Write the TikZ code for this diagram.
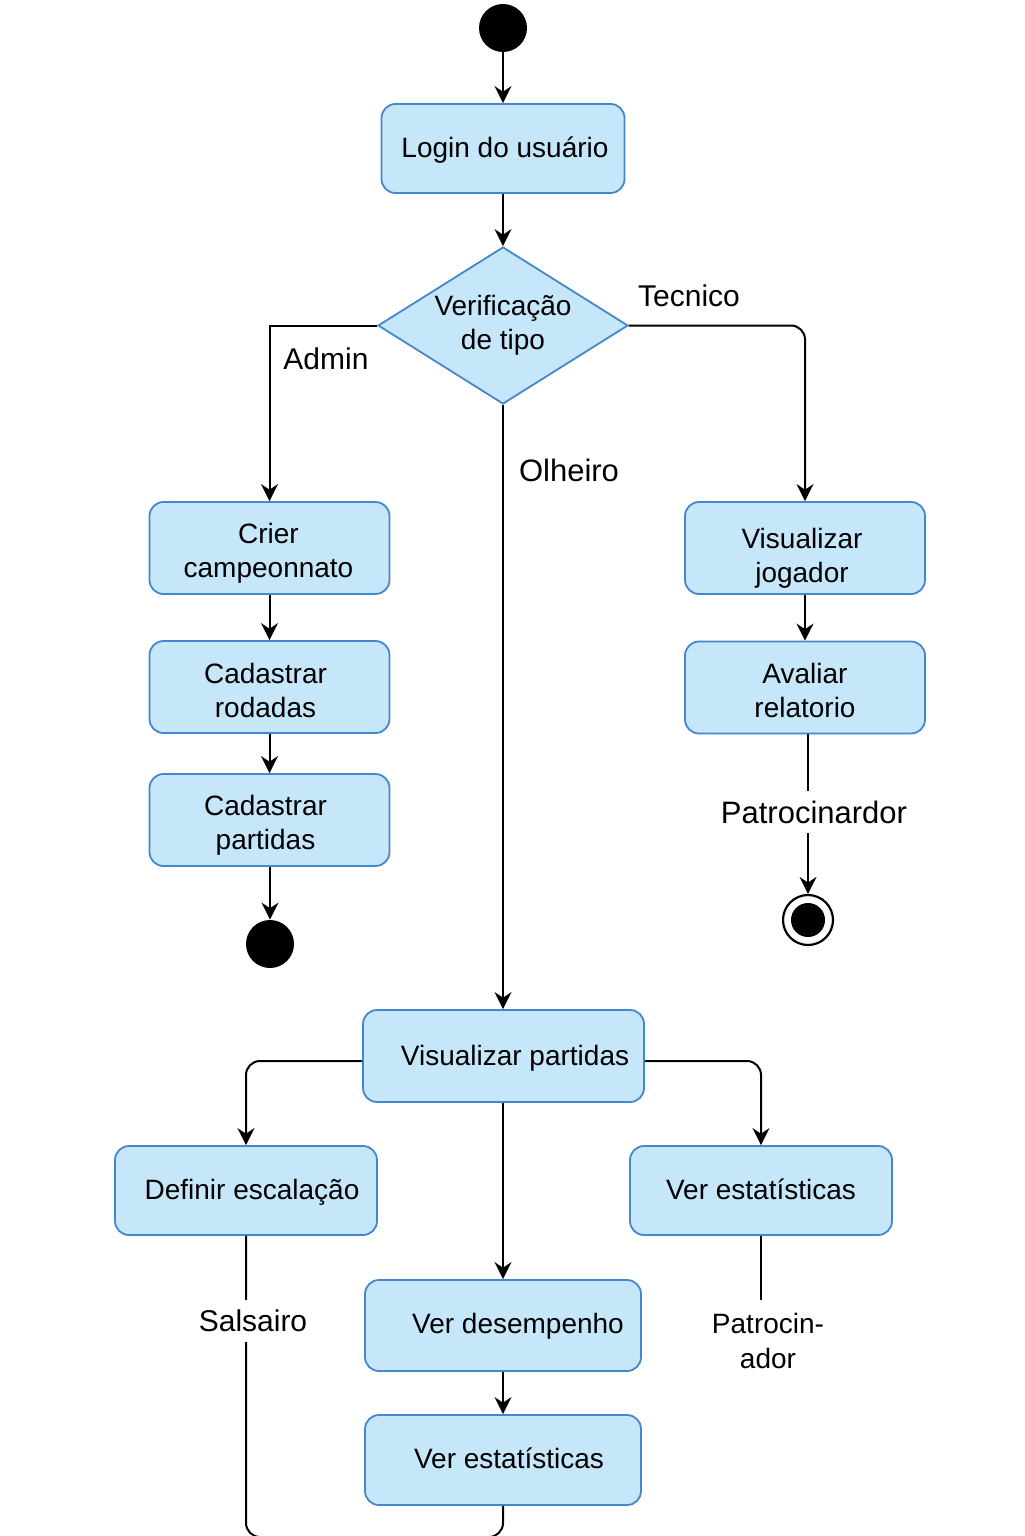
\documentclass[tikz,border=0pt]{standalone}
\usepackage{fontspec}
\setmainfont{Liberation Sans}
\usetikzlibrary{shapes.geometric,arrows.meta}
\definecolor{boxfill}{RGB}{198,231,249}
\definecolor{boxline}{RGB}{70,134,204}
\tikzset{
  box/.style={rectangle, rounded corners=7pt, draw=boxline, line width=0.9pt, fill=boxfill,
    inner sep=0pt},
  boxtext/.style={align=center, inner sep=0pt, font=\fontsize{14}{17}\selectfont},
  txt/.style n args={3}{label={[boxtext, xshift=#1, yshift=#2]center:#3}},
  decision/.style={diamond, draw=boxline, line width=0.9pt, fill=boxfill, aspect=1.59,
    align=center, inner sep=0pt, minimum width=125pt, minimum height=78.5pt,
    font=\fontsize{14}{17}\selectfont},
  dot/.style={circle, fill=black, inner sep=0pt, minimum size=24pt},
  lbl/.style={font=\fontsize{15}{17.5}\selectfont, inner sep=0pt, align=center},
  gaplbl/.style={lbl, fill=white, inner xsep=2pt, inner ysep=5pt},
  conn/.style={line width=1pt, draw=black},
  arr/.style={conn, -{Stealth[length=8.5pt,width=8.5pt,inset=2.8pt]}}
}
\begin{document}
\begin{tikzpicture}[x=0.5pt,y=-0.5pt]
\useasboundingbox (0,0) rectangle (1024,1536);
% nodes
\node[dot] (start) at (503,28) {};
\node[box, minimum width=121.5pt, minimum height=44.5pt, txt={1pt}{-1pt}{Login do usuário}] (login) at (503,148.5) {};
\node[decision] (dia) at (503,325.5) {Verificação\\de tipo};
\node[box, minimum width=120pt, minimum height=46pt, txt={-0.5pt}{-2.5pt}{Crier\\campeonnato}] (crier) at (269.5,548) {};
\node[box, minimum width=120pt, minimum height=46pt, txt={-2pt}{-1.75pt}{Cadastrar\\rodadas}] (rod) at (269.5,687) {};
\node[box, minimum width=120pt, minimum height=46pt, txt={-2pt}{-2.5pt}{Cadastrar\\partidas}] (part) at (269.5,820) {};
\node[dot] (endL) at (270,944) {};
\node[box, minimum width=120pt, minimum height=46pt, txt={-1.5pt}{-5pt}{Visualizar\\jogador}] (vj) at (805,548) {};
\node[box, minimum width=120pt, minimum height=46pt, txt={0pt}{-1.5pt}{Avaliar\\relatorio}] (ar) at (805,687.5) {};
\node[circle, draw=black, line width=1.1pt, fill=white, inner sep=0pt, minimum size=25pt] (endR) at (808,920) {};
\node[circle, fill=black, inner sep=0pt, minimum size=17pt] (endRin) at (endR) {};
\node[box, minimum width=140.5pt, minimum height=46pt, txt={5.75pt}{-1pt}{Visualizar partidas}] (vp) at (503.5,1056) {};
\node[box, minimum width=131pt, minimum height=44.5pt, txt={3pt}{-1pt}{Definir escalação}] (def) at (246,1190.5) {};
\node[box, minimum width=131pt, minimum height=44.5pt, txt={0pt}{0.5pt}{Ver estatísticas}] (ve1) at (761,1190.5) {};
\node[box, minimum width=138pt, minimum height=45.5pt, txt={7.5pt}{-0.5pt}{Ver desempenho}] (vd) at (503,1325.5) {};
\node[box, minimum width=138pt, minimum height=45pt, txt={3pt}{1pt}{Ver estatísticas}] (ve2) at (503,1460) {};
\coordinate (bot) at (503,1537);
% connectors
\draw[arr] (start) -- (login);
\draw[arr] (login) -- (dia.north);
\draw[arr] (dia.west) -| (crier.north);
\draw[arr, rounded corners=7pt] (dia.east) -| (vj.north);
\draw[arr] (dia.south) -- (dia.south |- vp.north);
\draw[arr] (crier) -- (rod);
\draw[arr] (rod) -- (part);
\draw[arr] (part.south -| endL) -- (endL);
\draw[arr] (vj) -- (ar);
\draw[arr] (ar.south -| endR) -- (endR.north);
\draw[arr, rounded corners=7pt] ([yshift=-2.5pt]vp.west) -| (def.north);
\draw[arr, rounded corners=7pt] ([yshift=-2.5pt]vp.east) -| (ve1.north);
\draw[arr] (vp.south -| vd.north) -- (vd.north);
\draw[arr] (vd) -- (ve2);
\draw[conn, rounded corners=7pt] (def.south) -- (def.south |- bot) -- (bot) -- (ve2.south);
\draw[conn] (ve1.south) -- (761,1300);
% labels
\node[lbl] (tecnico) at (689,296) {Tecnico};
\node[lbl] (admin) at (326,359) {Admin};
\node[lbl, font=\fontsize{15.5}{18}\selectfont] (olheiro) at (569,470) {Olheiro};
\node[gaplbl, font=\fontsize{15.5}{18}\selectfont] (patr1) at (814,812) {Patrocinardor};
\node[gaplbl] (sals) at (253,1321) {Salsairo};
\node[lbl, font=\fontsize{14}{17.5}\selectfont] (patr2) at (768,1341) {Patrocin-\\ador};
\end{tikzpicture}
\end{document}
